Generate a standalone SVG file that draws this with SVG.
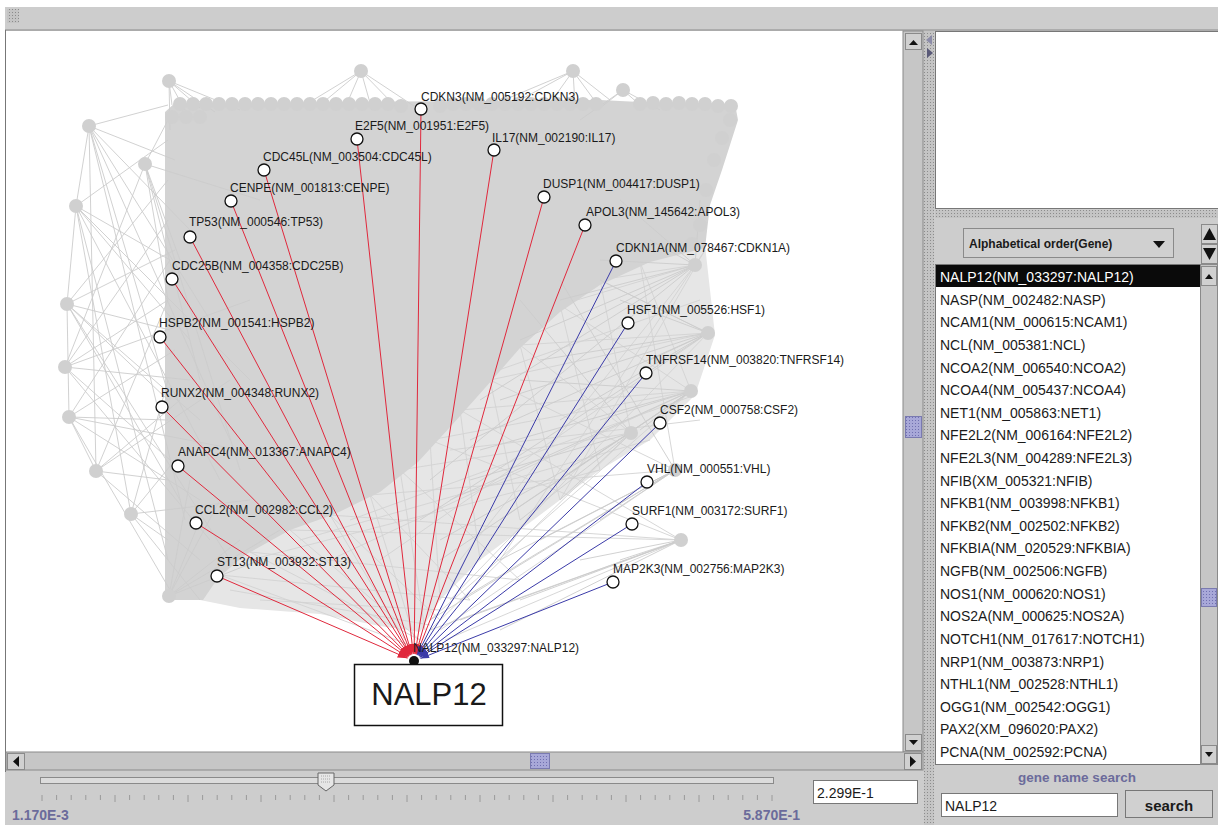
<svg xmlns="http://www.w3.org/2000/svg" width="1218" height="825" viewBox="0 0 1218 825">
<style>
.lbl{font-family:"Liberation Sans",Arial,sans-serif;font-size:12px;fill:#1a1a1a}
.lst{font-family:"Liberation Sans",Arial,sans-serif;font-size:14px;fill:#1a1a1a}
.bold{font-family:"Liberation Sans",Arial,sans-serif;font-weight:bold}
.node{fill:#ffffff;stroke:#111111;stroke-width:1.3}
.red{stroke:#e0283c;stroke-width:1;fill:none}
.blue{stroke:#3a3aa8;stroke-width:1;fill:none}
.bgn{fill:#d0d0d0}
.bge{stroke:#cccccc;stroke-width:0.9;fill:none}
.bgl{stroke:#d2d2d2;stroke-width:0.9;fill:none}
.btn{fill:#d0d0d0;stroke:#8a8a8a;stroke-width:1}
.ui{fill:#cdcdcd}
</style>
<defs>
<marker id="ar" viewBox="0 0 10 7" refX="10" refY="3.5" markerWidth="10" markerHeight="7" markerUnits="userSpaceOnUse" orient="auto"><path d="M0,0 L10,3.5 L0,7 z" fill="#e0283c"/></marker>
<marker id="ab" viewBox="0 0 10 7" refX="10" refY="3.5" markerWidth="9" markerHeight="6" markerUnits="userSpaceOnUse" orient="auto"><path d="M0,0 L10,3.5 L0,7 z" fill="#3a3aa8"/></marker>
<pattern id="hatch" width="3" height="3" patternUnits="userSpaceOnUse"><rect width="3" height="3" fill="#c4c4c4"/><rect width="1" height="1" fill="#8c8c8c"/></pattern>
<pattern id="bhatch" width="3" height="3" patternUnits="userSpaceOnUse"><rect width="3" height="3" fill="#a8a8d8"/><rect width="1" height="1" fill="#7070b0"/></pattern>
</defs>

<!-- window chrome -->
<rect x="0" y="0" width="1218" height="825" fill="#ffffff"/>
<rect x="5" y="7" width="1213" height="818" class="ui"/>
<rect x="7" y="9" width="12" height="14" fill="url(#hatch)"/>
<line x1="5" y1="30" x2="1218" y2="30" stroke="#8a8a8a"/>

<!-- canvas -->
<rect x="6" y="31" width="897" height="721" fill="#ffffff"/>
<line x1="5.5" y1="30" x2="5.5" y2="772" stroke="#777"/>

<!-- background network -->
<g id="background-network">
<polygon fill="#e6e6e6" points="600,240 705,245 715,335 695,395 650,440 600,470 540,515 480,560 440,600 420,632 380,626 320,614 240,608 200,600 220,560 400,420"/>
<path class="bgl" d="M600,280 L695,265 M560,305 L695,265 M520,345 L708,333 M490,380 L708,333 M460,410 L691,391 M430,440 L691,391 M400,470 L631,433 M370,495 L675,470 M330,515 L681,540 M290,530 L681,540 M250,552 L520,580 M220,575 L470,600 M560,305 L691,391 M520,345 L631,433 M490,380 L675,470 M460,410 L681,540 M430,440 L681,540 M400,470 L520,580 M370,495 L470,600 M330,515 L440,620 M290,530 L420,640 M250,552 L420,640 M220,575 L410,645 M600,280 L631,433 M600,280 L708,333 M640,262 L691,391 M640,262 L675,470 M560,305 L600,470 M520,345 L560,500 M490,380 L520,520 M460,410 L480,560 M430,440 L440,600 M400,470 L425,630 M370,495 L415,640 M330,515 L405,640 M705,250 L500,560 M705,250 L560,500 M708,333 L450,600 M691,391 L430,620 M631,433 L430,630 M675,470 L440,630 M681,540 L445,640 M695,265 L460,560 M708,333 L380,560 M691,391 L330,560 M250,560 L600,470 M300,540 L650,440 M350,520 L695,395 M450,450 L700,420 M470,380 L700,300 M230,590 L430,625 M260,600 L440,610"/>
<polygon fill="#d3d3d3" points="165,600 165,112 175,103 600,100 640,102 735,104 738,120 722,170 710,205 705,248 650,262 600,285 560,312 520,348 485,388 452,425 418,462 380,492 335,514 290,530 245,555 218,578 203,600"/>
<path class="bge" d="M89,126 L168,105 M89,126 L175,160 M89,126 L190,230 M89,126 L210,320 M89,126 L170,400 M89,126 L230,440 M89,126 L185,520 M89,126 L76,206
M145,164 L168,120 M145,164 L180,260 M145,164 L200,380 M145,164 L240,470 M145,164 L168,300 M145,164 L260,200
M76,206 L168,140 M76,206 L170,260 M76,206 L190,340 M76,206 L220,480 M76,206 L168,560 M76,206 L250,380 M76,206 L67,304
M67,304 L168,180 M67,304 L175,250 M67,304 L170,330 M67,304 L200,420 M67,304 L180,500 M67,304 L230,560 M67,304 L168,400 M67,304 L69,417
M65,367 L168,220 M65,367 L168,300 M65,367 L190,380 M65,367 L170,460 M65,367 L210,540 M65,367 L250,300 M65,367 L145,164
M69,417 L170,260 M69,417 L175,350 M69,417 L168,420 M69,417 L200,500 M69,417 L170,590 M69,417 L240,450 M69,417 L96,471
M96,471 L168,300 M96,471 L180,400 M96,471 L168,480 M96,471 L200,560 M96,471 L230,380 M96,471 L89,126
M131,514 L168,380 M131,514 L175,460 M131,514 L168,540 M131,514 L200,600 M131,514 L250,500 M131,514 L76,206
M169,596 L200,520 M169,596 L220,500 M169,596 L240,540 M169,596 L260,560 M169,596 L190,480 M169,596 L280,530
M169,81 L172,105 M169,81 L185,110 M169,81 L200,108 M169,81 L170,130 M169,81 L215,112 M169,81 L240,110
M361,71 L320,105 M361,71 L345,108 M361,71 L372,110 M361,71 L395,106 M361,71 L300,108 M361,71 L420,110
M573,71 L520,100 M573,71 L548,106 M573,71 L575,105 M573,71 L600,108 M573,71 L610,100 M573,71 L480,110
M623,90 L600,108 M623,90 L640,105 M623,90 L660,110 M623,90 L580,120
M695,265 L600,260 M695,265 L560,300 M695,265 L520,340 M695,265 L620,200 M695,265 L650,240 M695,265 L480,400 M695,265 L700,200 M695,265 L590,320 M695,265 L430,480
M708,333 L600,280 M708,333 L540,360 M708,333 L500,400 M708,333 L470,440 M708,333 L620,300 M708,333 L560,420 M708,333 L650,360 M708,333 L420,520
M691,391 L520,380 M691,391 L480,450 M691,391 L450,500 M691,391 L600,420 M691,391 L560,480 M691,391 L500,520 M691,391 L640,430 M691,391 L440,560
M631,433 L470,480 M631,433 L440,540 M631,433 L520,520 M631,433 L560,500 M631,433 L520,300
M675,470 L500,560 M675,470 L460,600 M675,470 L540,540 M675,470 L600,520 M675,470 L430,620 M675,470 L560,280
M681,540 L460,620 M681,540 L430,630 M681,540 L520,600 M681,540 L580,560 M681,540 L500,630 M681,540 L620,560"/>
<g class="bgn">
<circle cx="89" cy="126" r="7"/><circle cx="145" cy="164" r="7"/><circle cx="76" cy="206" r="7"/><circle cx="67" cy="304" r="7"/><circle cx="65" cy="367" r="7"/><circle cx="69" cy="417" r="7"/><circle cx="96" cy="471" r="7"/><circle cx="131" cy="514" r="7"/><circle cx="169" cy="596" r="7"/>
<circle cx="169" cy="81" r="7"/><circle cx="361" cy="71" r="7"/><circle cx="573" cy="71" r="7"/><circle cx="623" cy="90" r="7"/>
<circle cx="695" cy="265" r="7"/><circle cx="708" cy="333" r="7"/><circle cx="691" cy="391" r="7"/><circle cx="631" cy="433" r="7"/><circle cx="675" cy="470" r="7"/><circle cx="681" cy="540" r="7"/>
<circle cx="180" cy="104" r="7"/><circle cx="193" cy="104" r="7"/><circle cx="206" cy="104" r="7"/><circle cx="219" cy="104" r="7"/><circle cx="232" cy="104" r="7"/><circle cx="245" cy="104" r="7"/><circle cx="258" cy="104" r="7"/><circle cx="271" cy="104" r="7"/><circle cx="284" cy="104" r="7"/><circle cx="297" cy="104" r="7"/><circle cx="310" cy="104" r="7"/><circle cx="323" cy="104" r="7"/><circle cx="336" cy="104" r="7"/><circle cx="349" cy="104" r="7"/><circle cx="362" cy="104" r="7"/><circle cx="375" cy="104" r="7"/><circle cx="388" cy="104" r="7"/><circle cx="401" cy="106" r="7"/><circle cx="440" cy="106" r="7"/><circle cx="453" cy="104" r="7"/><circle cx="466" cy="104" r="7"/><circle cx="479" cy="104" r="7"/><circle cx="492" cy="104" r="7"/><circle cx="505" cy="104" r="7"/><circle cx="518" cy="104" r="7"/><circle cx="531" cy="104" r="7"/><circle cx="544" cy="104" r="7"/><circle cx="557" cy="104" r="7"/><circle cx="570" cy="104" r="7"/><circle cx="583" cy="104" r="7"/><circle cx="596" cy="104" r="7"/><circle cx="640" cy="104" r="7"/><circle cx="653" cy="103" r="7"/><circle cx="666" cy="104" r="7"/><circle cx="679" cy="103" r="7"/><circle cx="692" cy="104" r="7"/><circle cx="705" cy="104" r="7"/><circle cx="718" cy="106" r="7"/><circle cx="731" cy="106" r="7"/>
<circle cx="172" cy="117" r="7"/><circle cx="186" cy="117" r="7"/><circle cx="200" cy="117" r="7"/><circle cx="730" cy="120" r="7"/><circle cx="722" cy="138" r="7"/><circle cx="714" cy="160" r="7"/><circle cx="706" cy="190" r="7"/><circle cx="700" cy="225" r="7"/><circle cx="692" cy="244" r="7"/>
</g>
</g>

<!-- connectors -->
<g id="connectors">
<line class="red" marker-end="url(#ar)" x1="421" y1="109" x2="414.1" y2="654"/>
<line class="red" marker-end="url(#ar)" x1="357" y1="139" x2="413.2" y2="654"/>
<line class="red" marker-end="url(#ar)" x1="494" y1="150" x2="415.1" y2="654.1"/>
<line class="red" marker-end="url(#ar)" x1="264" y1="170" x2="412" y2="654.3"/>
<line class="red" marker-end="url(#ar)" x1="544" y1="197" x2="415.9" y2="654.3"/>
<line class="red" marker-end="url(#ar)" x1="231" y1="201" x2="411.4" y2="654.5"/>
<line class="red" marker-end="url(#ar)" x1="585" y1="225" x2="416.6" y2="654.5"/>
<line class="red" marker-end="url(#ar)" x1="190" y1="237" x2="410.7" y2="654.8"/>
<line class="red" marker-end="url(#ar)" x1="172" y1="279" x2="410.3" y2="655.1"/>
<line class="red" marker-end="url(#ar)" x1="160" y1="337" x2="409.7" y2="655.5"/>
<line class="red" marker-end="url(#ar)" x1="162" y1="407" x2="409.1" y2="656"/>
<line class="red" marker-end="url(#ar)" x1="178" y1="466" x2="408.6" y2="656.5"/>
<line class="red" marker-end="url(#ar)" x1="196" y1="523" x2="408.1" y2="657.3"/>
<line class="red" marker-end="url(#ar)" x1="217" y1="576" x2="407.6" y2="658.2"/>
<line class="blue" marker-end="url(#ab)" x1="616" y1="261" x2="417.2" y2="654.8"/>
<line class="blue" marker-end="url(#ab)" x1="628" y1="323" x2="417.7" y2="655.1"/>
<line class="blue" marker-end="url(#ab)" x1="646" y1="373" x2="418.4" y2="655.5"/>
<line class="blue" marker-end="url(#ab)" x1="660" y1="423" x2="419" y2="656.1"/>
<line class="blue" marker-end="url(#ab)" x1="647" y1="482" x2="419.6" y2="656.7"/>
<line class="blue" marker-end="url(#ab)" x1="632" y1="524" x2="419.9" y2="657.3"/>
<line class="blue" marker-end="url(#ab)" x1="613" y1="582" x2="420.5" y2="658.4"/>
</g>

<!-- nodes -->
<g id="n-CDKN3"><circle class="node" cx="421" cy="109" r="6"/><text class="lbl" x="421" y="101">CDKN3(NM_005192:CDKN3)</text></g>
<g id="n-E2F5"><circle class="node" cx="357" cy="139" r="6"/><text class="lbl" x="355" y="130">E2F5(NM_001951:E2F5)</text></g>
<g id="n-IL17"><circle class="node" cx="494" cy="150" r="6"/><text class="lbl" x="492" y="142">IL17(NM_002190:IL17)</text></g>
<g id="n-CDC45L"><circle class="node" cx="264" cy="170" r="6"/><text class="lbl" x="263" y="161">CDC45L(NM_003504:CDC45L)</text></g>
<g id="n-DUSP1"><circle class="node" cx="544" cy="197" r="6"/><text class="lbl" x="543" y="188">DUSP1(NM_004417:DUSP1)</text></g>
<g id="n-CENPE"><circle class="node" cx="231" cy="201" r="6"/><text class="lbl" x="230" y="192">CENPE(NM_001813:CENPE)</text></g>
<g id="n-APOL3"><circle class="node" cx="585" cy="225" r="6"/><text class="lbl" x="586" y="216">APOL3(NM_145642:APOL3)</text></g>
<g id="n-TP53"><circle class="node" cx="190" cy="237" r="6"/><text class="lbl" x="189" y="226">TP53(NM_000546:TP53)</text></g>
<g id="n-CDKN1A"><circle class="node" cx="616" cy="261" r="6"/><text class="lbl" x="616" y="252">CDKN1A(NM_078467:CDKN1A)</text></g>
<g id="n-CDC25B"><circle class="node" cx="172" cy="279" r="6"/><text class="lbl" x="172" y="270">CDC25B(NM_004358:CDC25B)</text></g>
<g id="n-HSF1"><circle class="node" cx="628" cy="323" r="6"/><text class="lbl" x="627" y="314">HSF1(NM_005526:HSF1)</text></g>
<g id="n-HSPB2"><circle class="node" cx="160" cy="337" r="6"/><text class="lbl" x="159" y="327">HSPB2(NM_001541:HSPB2)</text></g>
<g id="n-TNFRSF14"><circle class="node" cx="646" cy="373" r="6"/><text class="lbl" x="646" y="364">TNFRSF14(NM_003820:TNFRSF14)</text></g>
<g id="n-RUNX2"><circle class="node" cx="162" cy="407" r="6"/><text class="lbl" x="161" y="397">RUNX2(NM_004348:RUNX2)</text></g>
<g id="n-CSF2"><circle class="node" cx="660" cy="423" r="6"/><text class="lbl" x="660" y="414">CSF2(NM_000758:CSF2)</text></g>
<g id="n-ANAPC4"><circle class="node" cx="178" cy="466" r="6"/><text class="lbl" x="178" y="456">ANAPC4(NM_013367:ANAPC4)</text></g>
<g id="n-VHL"><circle class="node" cx="647" cy="482" r="6"/><text class="lbl" x="647" y="473">VHL(NM_000551:VHL)</text></g>
<g id="n-CCL2"><circle class="node" cx="196" cy="523" r="6"/><text class="lbl" x="195" y="514">CCL2(NM_002982:CCL2)</text></g>
<g id="n-SURF1"><circle class="node" cx="632" cy="524" r="6"/><text class="lbl" x="632" y="515">SURF1(NM_003172:SURF1)</text></g>
<g id="n-ST13"><circle class="node" cx="217" cy="576" r="6"/><text class="lbl" x="217" y="566">ST13(NM_003932:ST13)</text></g>
<g id="n-MAP2K3"><circle class="node" cx="613" cy="582" r="6"/><text class="lbl" x="613" y="573">MAP2K3(NM_002756:MAP2K3)</text></g>
<g id="n-NALP12"><circle cx="414" cy="661" r="5" fill="#111"/><text class="lbl" x="413" y="652">NALP12(NM_033297:NALP12)</text></g>
<g id="callout-NALP12"><rect x="354.5" y="664.5" width="148" height="61" fill="#ffffff" stroke="#111" stroke-width="1.5"/><text x="429" y="705" text-anchor="middle" font-family="Liberation Sans, Arial, sans-serif" font-size="31" fill="#1a1a1a">NALP12</text></g>

<!-- vertical scrollbar -->
<g id="vscroll">
<rect x="903" y="31" width="20" height="721" fill="#c6c6c6" stroke="#8a8a8a"/>
<rect class="btn" x="905.5" y="33.5" width="16" height="16"/><path d="M909,45 L913.5,40 L918,45 z" fill="#111"/>
<rect class="btn" x="905.5" y="734.5" width="16" height="16"/><path d="M909,740 L913.5,745 L918,740 z" fill="#111"/>
<rect x="905.5" y="416.5" width="16" height="21" fill="url(#bhatch)" stroke="#7a7ab0"/>
</g>
<!-- horizontal scrollbar -->
<g id="hscroll">
<rect x="6" y="752" width="917" height="18" fill="#c6c6c6" stroke="#8a8a8a"/>
<rect class="btn" x="7.5" y="753.5" width="17" height="16"/><path d="M19,756 L13,761.5 L19,767 z" fill="#111"/>
<rect class="btn" x="904.5" y="753.5" width="17" height="16"/><path d="M910,756 L916,761.5 L910,767 z" fill="#111"/>
<rect x="530.5" y="753.5" width="19" height="15" fill="url(#bhatch)" stroke="#7a7ab0"/>
</g>
<!-- slider -->
<g id="slider">
<rect x="40.5" y="777.5" width="733" height="6" fill="#dcdcdc" stroke="#8a8a8a"/>
<path d="M318,773 L334,773 L334,785 L326,791 L318,785 z" fill="#e6e6e6" stroke="#666"/>
<path d="M321,776 h10 M321,779 h10 M321,782 h10" stroke="#9a9a9a" stroke-width="0.8" stroke-dasharray="1,1"/>
<path stroke="#9a9a9a" stroke-width="1" d="M42,795v6M56.6,795v5M71.2,795v5M85.8,795v5M100.4,795v5M115,795v7M129.6,795v5M144.2,795v5M158.8,795v5M173.4,795v5M188,795v7M202.6,795v5M217.2,795v5M231.8,795v5M246.4,795v5M261,795v7M275.6,795v5M290.2,795v5M304.8,795v5M319.4,795v5M334,795v7M348.6,795v5M363.2,795v5M377.8,795v5M392.4,795v5M407,795v7M421.6,795v5M436.2,795v5M450.8,795v5M465.4,795v5M480,795v7M494.6,795v5M509.2,795v5M523.8,795v5M538.4,795v5M553,795v7M567.6,795v5M582.2,795v5M596.8,795v5M611.4,795v5M626,795v7M640.6,795v5M655.2,795v5M669.8,795v5M684.4,795v5M699,795v7M713.6,795v5M728.2,795v5M742.8,795v5M757.4,795v5M772,795v6"/>
<text class="bold" x="12" y="820" font-size="14" fill="#6b6b9b">1.170E-3</text>
<text class="bold" x="800" y="820" font-size="14" fill="#6b6b9b" text-anchor="end">5.870E-1</text>
<rect x="813.5" y="780.5" width="104" height="23" fill="#ffffff" stroke="#777"/>
<text x="817" y="798" font-family="Liberation Sans, Arial, sans-serif" font-size="14" fill="#1a1a1a">2.299E-1</text>
</g>

<!-- splitter -->
<g id="splitter">
<rect x="924" y="31" width="10" height="794" fill="url(#hatch)"/>
<path d="M932,35 L926,40 L932,45 z" fill="#8c8ca8"/>
<path d="M927,48 L933,53 L927,58 z" fill="#5a5a78"/>
</g>

<!-- right panel -->
<g id="right-panel">
<rect x="935.5" y="31.5" width="283" height="177" fill="#ffffff" stroke="#777"/>
<rect x="935" y="210" width="283" height="8" fill="url(#hatch)"/>
<rect x="963.5" y="228.5" width="210" height="29" fill="#d0d0d0" stroke="#8a8a8a"/>
<text class="bold" x="969" y="248" font-size="12" fill="#1a1a1a">Alphabetical order(Gene)</text>
<path d="M1153,241 L1165,241 L1159,248 z" fill="#111"/>
<rect class="btn" x="1201.5" y="224.5" width="16" height="19"/><path d="M1203,240 L1209.5,228 L1216,240 z" fill="#111"/>
<rect class="btn" x="1201.5" y="244.5" width="16" height="19"/><path d="M1203,248 L1209.5,260 L1216,248 z" fill="#111"/>
<rect x="935.5" y="264.5" width="265" height="500" fill="#ffffff" stroke="#777"/>
<rect x="936" y="265" width="264" height="22" fill="#0a0a0a"/>
<rect x="1200.5" y="264.5" width="17" height="500" fill="#c6c6c6" stroke="#8a8a8a"/>
<rect class="btn" x="1201.5" y="266.5" width="15" height="19"/><path d="M1205,279 L1209,274 L1213,279 z" fill="#111"/>
<rect class="btn" x="1201.5" y="745.5" width="15" height="18"/><path d="M1205,752 L1209,757 L1213,752 z" fill="#111"/>
<rect x="1201.5" y="588.5" width="15" height="18" fill="url(#bhatch)" stroke="#7a7ab0"/>
<text class="lst" x="940" y="282" style="fill:#ffffff">NALP12(NM_033297:NALP12)</text>
<text class="lst" x="940" y="304.6">NASP(NM_002482:NASP)</text>
<text class="lst" x="940" y="327.2">NCAM1(NM_000615:NCAM1)</text>
<text class="lst" x="940" y="349.9">NCL(NM_005381:NCL)</text>
<text class="lst" x="940" y="372.5">NCOA2(NM_006540:NCOA2)</text>
<text class="lst" x="940" y="395.1">NCOA4(NM_005437:NCOA4)</text>
<text class="lst" x="940" y="417.7">NET1(NM_005863:NET1)</text>
<text class="lst" x="940" y="440.3">NFE2L2(NM_006164:NFE2L2)</text>
<text class="lst" x="940" y="463">NFE2L3(NM_004289:NFE2L3)</text>
<text class="lst" x="940" y="485.6">NFIB(XM_005321:NFIB)</text>
<text class="lst" x="940" y="508.2">NFKB1(NM_003998:NFKB1)</text>
<text class="lst" x="940" y="530.8">NFKB2(NM_002502:NFKB2)</text>
<text class="lst" x="940" y="553.4">NFKBIA(NM_020529:NFKBIA)</text>
<text class="lst" x="940" y="576.1">NGFB(NM_002506:NGFB)</text>
<text class="lst" x="940" y="598.7">NOS1(NM_000620:NOS1)</text>
<text class="lst" x="940" y="621.3">NOS2A(NM_000625:NOS2A)</text>
<text class="lst" x="940" y="643.9">NOTCH1(NM_017617:NOTCH1)</text>
<text class="lst" x="940" y="666.5">NRP1(NM_003873:NRP1)</text>
<text class="lst" x="940" y="689.2">NTHL1(NM_002528:NTHL1)</text>
<text class="lst" x="940" y="711.8">OGG1(NM_002542:OGG1)</text>
<text class="lst" x="940" y="734.4">PAX2(XM_096020:PAX2)</text>
<text class="lst" x="940" y="757">PCNA(NM_002592:PCNA)</text>
<text class="bold" x="1077" y="782" font-size="13.5" fill="#6b6b9b" text-anchor="middle">gene name search</text>
<rect x="941.5" y="793.5" width="176" height="23" fill="#ffffff" stroke="#777"/>
<text x="945" y="811" font-family="Liberation Sans, Arial, sans-serif" font-size="14" fill="#1a1a1a">NALP12</text>
<rect x="1125.5" y="790.5" width="87" height="27" fill="#d0d0d0" stroke="#777"/>
<text class="bold" x="1169" y="811" font-size="15" fill="#1a1a1a" text-anchor="middle">search</text>
</g>
</svg>
